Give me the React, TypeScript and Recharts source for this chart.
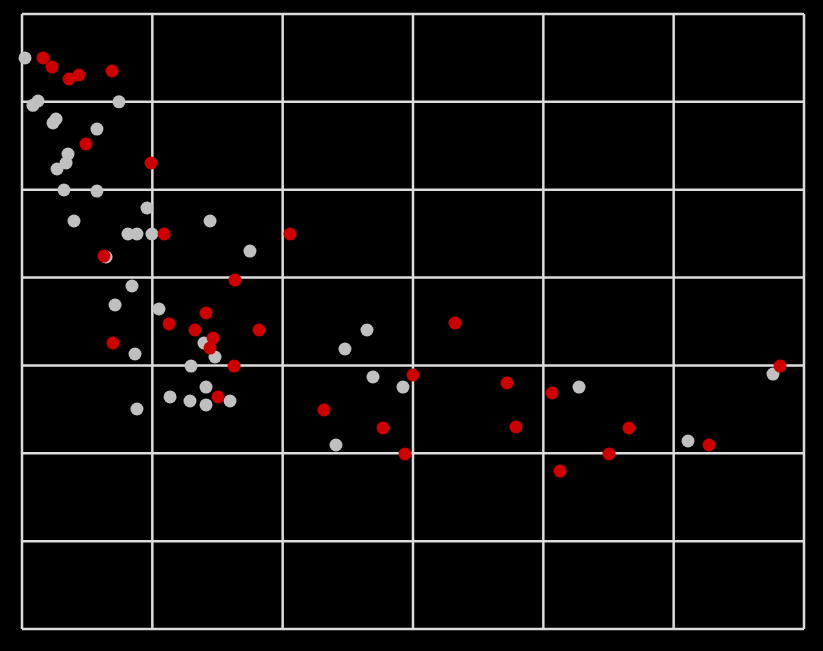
import React from 'react';
import { ScatterChart, Scatter, XAxis, YAxis, CartesianGrid } from 'recharts';

// grid ticks
const xTicks = [0, 10, 20, 30, 40, 50, 60];
const yTicks = [0, 10, 20, 30, 40, 50, 60, 70];

// grey series
const greyX = [0.23, 0.84, 1.23, 7.44, 2.38, 2.61, 5.75, 3.53, 3.38, 2.69, 3.22, 5.75, 9.59, 3.99, 14.43, 8.13, 8.82, 9.97, 6.45, 17.49, 8.44, 7.14, 10.51, 13.96, 14.81, 12.97, 8.67, 14.12, 11.36, 12.89, 14.12, 15.96, 8.82, 26.47, 24.78, 26.93, 29.23, 24.09, 42.74, 51.1, 57.62];
const greyY = [65.0, 59.6, 60.1, 60.0, 57.6, 58.05, 56.9, 54.06, 53.04, 52.36, 49.97, 49.85, 47.92, 46.44, 46.44, 44.96, 44.96, 44.96, 42.34, 43.02, 39.04, 36.88, 36.42, 32.55, 30.96, 29.93, 31.3, 27.54, 26.41, 25.95, 25.5, 25.95, 25.04, 34.03, 31.87, 28.68, 27.54, 20.94, 27.54, 21.4, 29.02];

// red series
const redX = [1.61, 2.3, 3.61, 4.37, 6.91, 4.91, 9.9, 10.9, 20.56, 6.29, 16.34, 14.12, 11.28, 13.27, 14.66, 14.43, 18.19, 6.98, 16.27, 15.04, 23.17, 27.7, 29.39, 30.0, 33.22, 37.21, 40.67, 37.9, 46.57, 45.04, 41.28, 52.71, 58.16];
const redY = [65.0, 63.97, 62.6, 63.06, 63.51, 55.2, 53.04, 44.96, 44.96, 42.45, 39.72, 35.97, 34.72, 34.03, 33.12, 31.98, 34.03, 32.55, 29.93, 26.41, 24.93, 22.88, 19.92, 28.91, 34.83, 28.0, 26.86, 22.99, 22.88, 19.92, 17.98, 20.94, 29.93];

const greyData = greyX.map((x, i) => ({ x, y: greyY[i] }));
const redData = redX.map((x, i) => ({ x, y: redY[i] }));

const dot = (color: string) => (props: any) => (
  <circle cx={props.cx} cy={props.cy} r={6.5} fill={color} />
);

const App = () => {
  return (
    <div style={{ position: 'fixed', left: 0, top: 0, width: 823, height: 651, background: '#000' }}>
      <ScatterChart width={823} height={651} margin={{ top: 14, right: 19, bottom: 22, left: 22 }}>
        <CartesianGrid stroke="#dcdcdc" strokeWidth={2.5} />
        <XAxis type="number" dataKey="x" domain={[0, 60]} ticks={xTicks} hide />
        <YAxis type="number" dataKey="y" domain={[0, 70]} ticks={yTicks} hide />
        <Scatter data={greyData} fill="#c0c0c0" shape={dot('#c0c0c0')} isAnimationActive={false} />
        <Scatter data={redData} fill="#cc0000" shape={dot('#cc0000')} isAnimationActive={false} />
      </ScatterChart>
    </div>
  );
};

export default App;
